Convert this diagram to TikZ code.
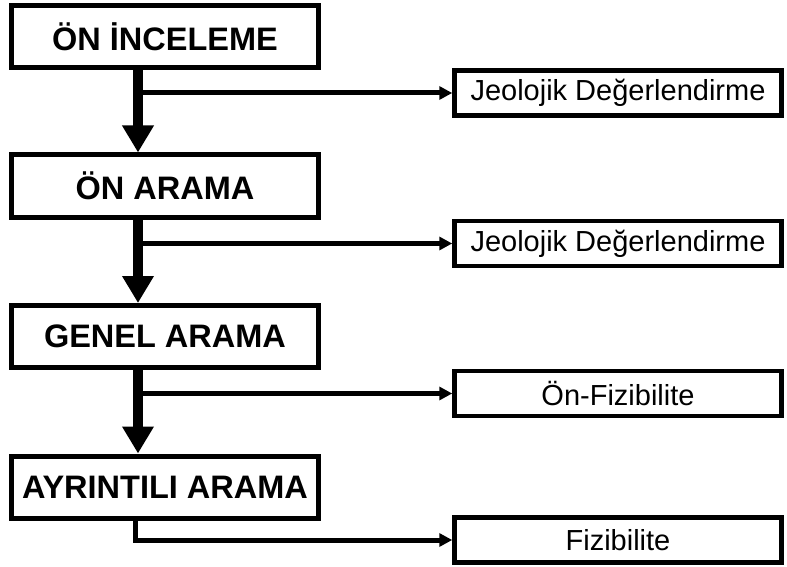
\documentclass[tikz,border=0pt]{standalone}
\usepackage{fontspec}
\setmainfont{Liberation Sans}
\usetikzlibrary{arrows.meta}
\begin{document}
\begin{tikzpicture}[x=1pt,y=-1pt,
 leftbox/.style={draw,line width=5pt,minimum width=307pt,minimum height=62pt,inner sep=0pt,font=\fontsize{32.5}{34}\selectfont\bfseries},
 rightbox/.style={draw,line width=4.5pt,minimum width=327pt,minimum height=45pt,inner sep=0pt,font=\fontsize{29}{31}\selectfont},
 mainarrow/.style={line width=10pt,-{Triangle[width=30pt,length=27pt]}},
 branch/.style={line width=5pt,line join=miter,-{Triangle[width=13pt,length=13pt]}}]
\useasboundingbox[fill=white] (0,0) rectangle (787,567);
\node[leftbox] (B1) at (165,36.5) {ÖN İNCELEME};
\node[leftbox] (B2) at (165,186) {ÖN ARAMA};
\node[leftbox] (B3) at (165,336.5) {GENEL ARAMA};
\node[leftbox] (B4) at (165,487) {AYRINTILI ARAMA};
\node[rightbox] (R1) at (618,93) {Jeolojik Değerlendirme};
\node[rightbox] (R2) at (618,243.5) {Jeolojik Değerlendirme};
\node[rightbox] (R3) at (618,393.5) {Ön-Fizibilite};
\node[rightbox] (R4) at (618,540) {Fizibilite};
\coordinate (sx) at (138,0);
\coordinate (ex) at (135,0);
\draw[branch] (R1.west -| sx) -- (R1.west);
\draw[branch] (R2.west -| sx) -- (R2.west);
\draw[branch] (R3.west -| sx) -- (R3.west);
\draw[mainarrow] (B1.south -| sx) -- (B2.north -| sx);
\draw[mainarrow] (B2.south -| sx) -- (B3.north -| sx);
\draw[mainarrow] (B3.south -| sx) -- (B4.north -| sx);
\draw[branch] (B4.south -| ex) |- (R4.west);
\end{tikzpicture}
\end{document}
